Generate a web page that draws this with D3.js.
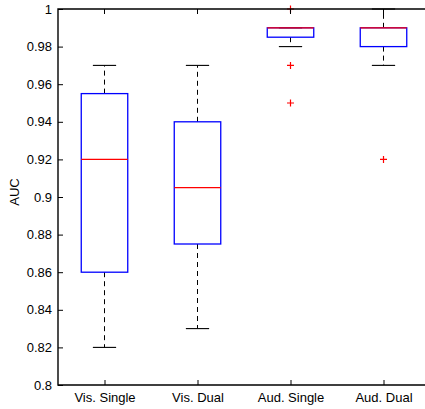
<!DOCTYPE html>
<html>
<head>
<meta charset="utf-8">
<script src="https://cdn.jsdelivr.net/npm/d3@7"></script>
<style>
  html, body { margin: 0; padding: 0; background: #fff; overflow: hidden; }
  svg { display: block; }
  text { font-family: "Liberation Sans", Arial, sans-serif; font-size: 13px; fill: #000; }
</style>
</head>
<body>
<svg id="chart" width="425" height="409"></svg>
<script>
const categories = ["Vis. Single", "Vis. Dual", "Aud. Single", "Aud. Dual"];
const whiskerLow = [0.82, 0.83, 0.98, 0.97];
const q1 = [0.86, 0.875, 0.985, 0.98];
const medians = [0.92, 0.905, 0.99, 0.99];
const q3 = [0.955, 0.94, 0.99, 0.99];
const whiskerHigh = [0.97, 0.97, 0.99, 1.0];
const outliers = [[], [], [1.0, 0.97, 0.95], [0.92]];
const yTicks = [0.8, 0.82, 0.84, 0.86, 0.88, 0.9, 0.92, 0.94, 0.96, 0.98, 1.0];
const yLabel = "AUC";

(function () {
const svg = d3.select("#chart");
const mLeft = 58, mRight = 430, mTop = 9, mBottom = 385;

const x = d3.scaleLinear().domain([0.5, categories.length + 0.5]).range([mLeft, mRight]);
const y = d3.scaleLinear().domain([0.8, 1.0]).range([mBottom, mTop]);

const boxHalf = (x(1) - x(0)) * 0.25;
const capHalf = boxHalf / 2;

const data = categories.map((c, i) => ({
  c, i, pos: i + 1,
  lo: whiskerLow[i], q1: q1[i], med: medians[i], q3: q3[i], hi: whiskerHigh[i],
  out: outliers[i]
}));

const g = svg.append("g");

data.forEach(d => {
  const cx = x(d.pos);
  if (d.hi > d.q3) {
    g.append("line").attr("x1", cx).attr("x2", cx).attr("y1", y(d.q3)).attr("y2", y(d.hi))
      .attr("stroke", "#000").attr("stroke-width", 1).attr("stroke-dasharray", "5,4");
  }
  if (d.lo < d.q1) {
    g.append("line").attr("x1", cx).attr("x2", cx).attr("y1", y(d.q1)).attr("y2", y(d.lo))
      .attr("stroke", "#000").attr("stroke-width", 1).attr("stroke-dasharray", "5,4");
  }
  [d.lo, d.hi].forEach(v => {
    g.append("line").attr("x1", cx - capHalf).attr("x2", cx + capHalf)
      .attr("y1", y(v)).attr("y2", y(v)).attr("stroke", "#000").attr("stroke-width", 1.1);
  });
  g.append("rect").attr("x", cx - boxHalf).attr("y", y(d.q3))
    .attr("width", boxHalf * 2).attr("height", y(d.q1) - y(d.q3))
    .attr("fill", "none").attr("stroke", "#0000ff").attr("stroke-width", 1.3);
  g.append("line").attr("x1", cx - boxHalf).attr("x2", cx + boxHalf)
    .attr("y1", y(d.med)).attr("y2", y(d.med)).attr("stroke", "#ff0000").attr("stroke-width", 1.3);
  d.out.forEach(v => {
    const oy = y(v);
    g.append("path").attr("d", `M${cx - 3.5},${oy}H${cx + 3.5}M${cx},${oy - 3.5}V${oy + 3.5}`)
      .attr("stroke", "#ff0000").attr("stroke-width", 1.2).attr("fill", "none");
  });
});

const yAxis = d3.axisLeft(y).tickValues(yTicks).tickSize(-5).tickPadding(6)
  .tickFormat(d => String(+d.toFixed(2)));
const yg = svg.append("g").attr("transform", `translate(${mLeft},0)`).call(yAxis);
yg.select(".domain").remove();
yg.selectAll(".tick line").attr("stroke", "#000");
yg.selectAll("text").style("font-size", "13px").attr("fill", "#000");

const xAxis = d3.axisBottom(x).tickValues(data.map(d => d.pos)).tickSize(-5).tickPadding(8)
  .tickFormat((d, i) => categories[i]);
const xg = svg.append("g").attr("transform", `translate(0,${mBottom})`).call(xAxis);
xg.select(".domain").remove();
xg.selectAll(".tick line").attr("stroke", "#000");
xg.selectAll("text").style("font-size", "13px").attr("fill", "#000");

svg.append("g").selectAll("line").data(data).join("line")
  .attr("x1", d => x(d.pos)).attr("x2", d => x(d.pos))
  .attr("y1", mTop).attr("y2", mTop + 5).attr("stroke", "#000");

svg.append("path")
  .attr("d", `M${mLeft},${mTop}H${mRight}V${mBottom}H${mLeft}Z`)
  .attr("fill", "none").attr("stroke", "#000").attr("stroke-width", 1.4);

svg.append("text").attr("transform", `translate(19,192) rotate(-90)`)
  .attr("text-anchor", "middle").style("font-size", "13px").text(yLabel);
})();
</script>
</body>
</html>
